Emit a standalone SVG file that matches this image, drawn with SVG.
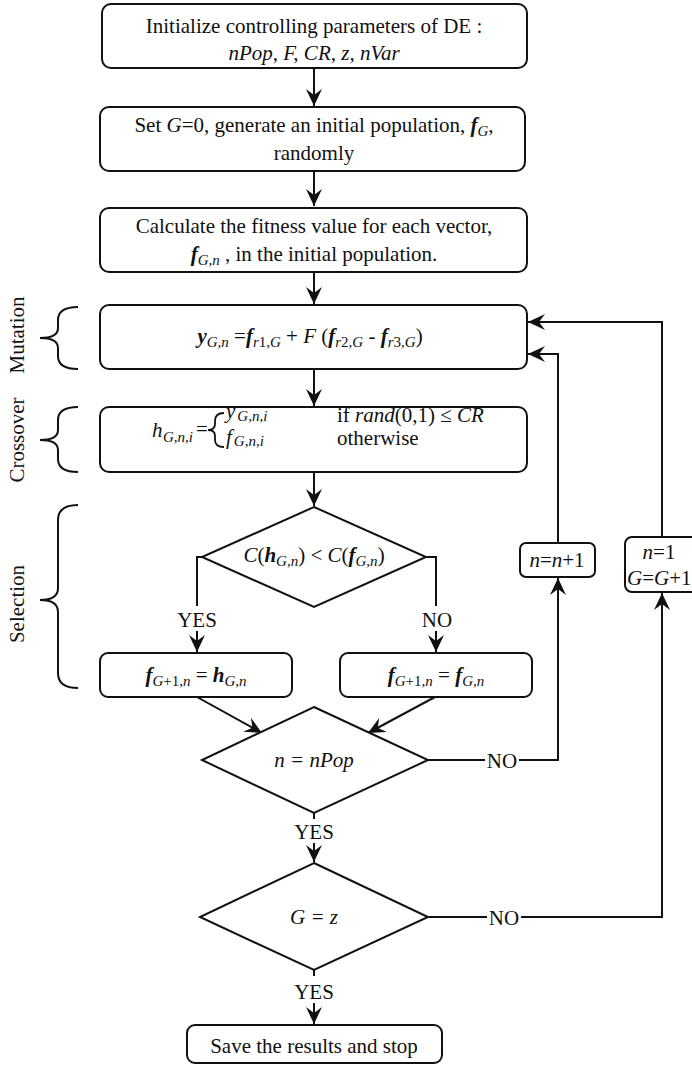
<svg xmlns="http://www.w3.org/2000/svg" width="692" height="1066" viewBox="0 0 692 1066">
<style>
text{font-family:"Liberation Serif","Times New Roman",serif;font-size:21px;fill:#111}
.i{font-style:italic}
.bi{font-style:italic;font-weight:bold}
.s{font-size:15px;font-style:italic}
.n{font-size:15px}
.box{fill:#fff;stroke:#111;stroke-width:2}
.dia{fill:#fff;stroke:#111;stroke-width:2}
.ln{fill:none;stroke:#111;stroke-width:2}
.br{fill:none;stroke:#111;stroke-width:2}
</style>
<defs>
<marker id="ah" markerUnits="userSpaceOnUse" markerWidth="20" markerHeight="20" viewBox="-18 -9 20 18" refX="0" refY="0" orient="auto">
<path d="M0,0 L-17,-8 L-11,0 L-17,8 Z" fill="#111"/>
</marker>
</defs>

<g id="labels">
<text transform="translate(24,335) rotate(-90)" text-anchor="middle">Mutation</text>
<text transform="translate(24,440) rotate(-90)" text-anchor="middle">Crossover</text>
<text transform="translate(24,604) rotate(-90)" text-anchor="middle">Selection</text>
<path class="br" d="M78,307 Q58,307 58,320 L58,328 Q58,338 40,338 Q58,338 58,348 L58,356 Q58,369 78,369"/>
<path class="br" d="M78,407 Q58,407 58,420 L58,430 Q58,440 40,440 Q58,440 58,450 L58,459 Q58,472 78,472"/>
<path class="br" d="M78,505 Q58,505 58,520 L58,588 Q58,600 40,600 Q58,600 58,612 L58,673 Q58,688 78,688"/>
</g>

<g id="connectors">
<line class="ln" x1="314" y1="68" x2="314" y2="106" marker-end="url(#ah)"/>
<line class="ln" x1="314" y1="171" x2="314" y2="206" marker-end="url(#ah)"/>
<line class="ln" x1="314" y1="272" x2="314" y2="304" marker-end="url(#ah)"/>
<line class="ln" x1="314" y1="369" x2="314" y2="406" marker-end="url(#ah)"/>
<line class="ln" x1="314" y1="472" x2="314" y2="506" marker-end="url(#ah)"/>
<polyline class="ln" points="202,557 197,557 197,606"/>
<line class="ln" x1="197" y1="631" x2="197" y2="652" marker-end="url(#ah)"/>
<polyline class="ln" points="426,557 436,557 436,606"/>
<line class="ln" x1="436" y1="631" x2="436" y2="652" marker-end="url(#ah)"/>
<line class="ln" x1="197" y1="697" x2="262" y2="733" marker-end="url(#ah)"/>
<line class="ln" x1="435" y1="697" x2="368" y2="733" marker-end="url(#ah)"/>
<line class="ln" x1="428" y1="760" x2="485" y2="760"/>
<polyline class="ln" points="519,760 558,760 558,578" marker-end="url(#ah)"/>
<polyline class="ln" points="558,543 558,354 528,354" marker-end="url(#ah)"/>
<line class="ln" x1="314" y1="813" x2="314" y2="819"/>
<line class="ln" x1="314" y1="843" x2="314" y2="862" marker-end="url(#ah)"/>
<line class="ln" x1="428" y1="917" x2="487" y2="917"/>
<polyline class="ln" points="521,917 662,917 662,593" marker-end="url(#ah)"/>
<polyline class="ln" points="662,537 662,322 528,322" marker-end="url(#ah)"/>
<line class="ln" x1="314" y1="970" x2="314" y2="976"/>
<line class="ln" x1="314" y1="1003" x2="314" y2="1024" marker-end="url(#ah)"/>
<text x="197" y="627" text-anchor="middle">YES</text>
<text x="437" y="627" text-anchor="middle">NO</text>
<text x="502" y="768" text-anchor="middle">NO</text>
<text x="504" y="925" text-anchor="middle">NO</text>
<text x="314" y="839" text-anchor="middle">YES</text>
<text x="314" y="999" text-anchor="middle">YES</text>
</g>

<g id="init">
<rect class="box" x="102" y="4" width="425" height="64" rx="9"/>
<text x="314" y="33" text-anchor="middle">Initialize controlling parameters of DE :</text>
<text x="314" y="60" text-anchor="middle" class="i">nPop, F, CR, z, nVar</text>
</g>

<g id="setG">
<rect class="box" x="100" y="107" width="425" height="64" rx="9"/>
<text x="314" y="132" text-anchor="middle">Set <tspan class="i">G</tspan>=0, generate an initial population, <tspan class="bi">f</tspan><tspan class="s" dy="4">G</tspan><tspan dy="-4">,</tspan></text>
<text x="314" y="160" text-anchor="middle">randomly</text>
</g>

<g id="fitness">
<rect class="box" x="100" y="208" width="427" height="64" rx="9"/>
<text x="314" y="233" text-anchor="middle">Calculate the fitness value for each vector,</text>
<text x="314" y="261" text-anchor="middle"><tspan class="bi">f</tspan><tspan class="s" dy="4">G,n</tspan><tspan dy="-4"> , in the initial population.</tspan></text>
</g>

<g id="mutation">
<rect class="box" x="100" y="305" width="427" height="64" rx="9"/>
<text x="310" y="343" text-anchor="middle"><tspan class="bi">y</tspan><tspan class="s" dy="4">G,n</tspan><tspan dy="-4"> =</tspan><tspan class="bi">f</tspan><tspan class="s" dy="4">r</tspan><tspan class="n">1,</tspan><tspan class="s">G</tspan><tspan dy="-4"> + </tspan><tspan class="i">F</tspan><tspan> (</tspan><tspan class="bi">f</tspan><tspan class="s" dy="4">r</tspan><tspan class="n">2,</tspan><tspan class="s">G</tspan><tspan dy="-4"> - </tspan><tspan class="bi">f</tspan><tspan class="s" dy="4">r</tspan><tspan class="n">3,</tspan><tspan class="s">G</tspan><tspan dy="-4">)</tspan></text>
</g>

<g id="crossover">
<rect class="box" x="100" y="407" width="427" height="65" rx="9"/>
<text x="152" y="437" class="i">h</text>
<text x="163" y="442" class="s">G,n,i</text>
<text x="196" y="436">=</text>
<path class="br" style="stroke-width:1.8" d="M224,413 Q215,413 215,421 L215,424 Q215,430 208,430 Q215,430 215,436 L215,440 Q215,447 224,447"/>
<text x="226" y="418"><tspan class="i">y</tspan><tspan class="s" dx="2" dy="3">G,n,i</tspan></text>
<text x="226" y="444"><tspan class="i">f</tspan><tspan class="s" dx="2" dy="2">G,n,i</tspan></text>
<text x="337" y="422">if <tspan class="i">rand</tspan>(0,1) ≤ <tspan class="i">CR</tspan></text>
<text x="337" y="445">otherwise</text>
</g>

<g id="compare">
<polygon class="dia" points="314,507 426,557 314,607 202,557"/>
<text x="314" y="562" text-anchor="middle"><tspan class="i">C</tspan>(<tspan class="bi">h</tspan><tspan class="s" dy="4">G,n</tspan><tspan dy="-4">) &lt; </tspan><tspan class="i">C</tspan>(<tspan class="bi">f</tspan><tspan class="s" dy="4">G,n</tspan><tspan dy="-4">)</tspan></text>
</g>

<g id="acceptTrial">
<rect class="box" x="100" y="653" width="192" height="44" rx="8"/>
<text x="196" y="682" text-anchor="middle"><tspan class="bi">f</tspan><tspan class="s" dy="4">G</tspan><tspan class="n">+1,</tspan><tspan class="s">n</tspan><tspan dy="-4"> = </tspan><tspan class="bi">h</tspan><tspan class="s" dy="4">G,n</tspan></text>
</g>

<g id="keepTarget">
<rect class="box" x="340" y="653" width="192" height="44" rx="8"/>
<text x="436" y="682" text-anchor="middle"><tspan class="bi">f</tspan><tspan class="s" dy="4">G</tspan><tspan class="n">+1,</tspan><tspan class="s">n</tspan><tspan dy="-4"> = </tspan><tspan class="bi">f</tspan><tspan class="s" dy="4">G,n</tspan></text>
</g>

<g id="checkN">
<polygon class="dia" points="314,707 428,760 314,813 202,760"/>
<text x="314" y="767" text-anchor="middle" class="i">n = nPop</text>
</g>

<g id="incN">
<rect class="box" x="520" y="543" width="75" height="34" rx="6"/>
<text x="557" y="567" text-anchor="middle"><tspan class="i">n</tspan>=<tspan class="i">n</tspan>+1</text>
</g>

<g id="incG">
<rect class="box" x="625" y="537" width="80" height="55" rx="7"/>
<text x="659" y="559" text-anchor="middle"><tspan class="i">n</tspan>=1</text>
<text x="627" y="585"><tspan class="i">G</tspan>=<tspan class="i">G</tspan>+1</text>
</g>

<g id="checkG">
<polygon class="dia" points="314,863 428,917 314,970 200,917"/>
<text x="314" y="924" text-anchor="middle" class="i">G = z</text>
</g>

<g id="stop">
<rect class="box" x="187" y="1025" width="255" height="38" rx="8"/>
<text x="314" y="1053" text-anchor="middle">Save the results and stop</text>
</g>
</svg>
